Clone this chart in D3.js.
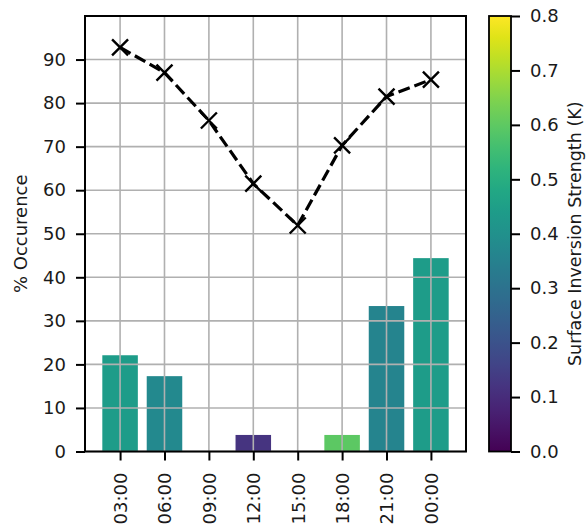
<!DOCTYPE html>
<html><head><meta charset="utf-8">
<script src="https://cdn.jsdelivr.net/npm/d3@7"></script>
<style>body{margin:0;background:#fff}svg{display:block}text{font-family:"DejaVu Sans",sans-serif;fill:#1a1a1a}</style>
</head><body><svg id="c" width="586" height="525"></svg>
<script>
const categories = ["03:00","06:00","09:00","12:00","15:00","18:00","21:00","00:00"];
const barValues = [22.1, 17.3, 0, 3.8, 0, 3.8, 33.4, 44.4];
const strength = [0.44, 0.375, 0, 0.12, 0, 0.60, 0.36, 0.44];
const lineValues = [92.8, 87.0, 76.0, 61.5, 51.9, 70.3, 81.5, 85.4];
const yTicks = [0,10,20,30,40,50,60,70,80,90];
const cbTicks = [0.0,0.1,0.2,0.3,0.4,0.5,0.6,0.7,0.8];

const svg = d3.select("#c");
const L=85, R=466, T=16, B=451.5;
const x = d3.scaleLinear().domain([-0.79, 7.79]).range([L, R]);
const y = d3.scaleLinear().domain([0, 100]).range([B, T]);
const cmax = 0.8;
const color = v => d3.interpolateViridis(v / cmax);
const fs = 18;

// bars
svg.append("g").selectAll("rect").data(barValues).join("rect")
  .attr("x", (d,i)=>x(i-0.4)).attr("width", x(0.8)-x(0))
  .attr("y", d=>y(d)).attr("height", d=>y(0)-y(d))
  .attr("fill", (d,i)=>color(strength[i]));

// grid (on top of bars)
const g = svg.append("g").attr("stroke","#b0b0b0").attr("stroke-width",1.6);
categories.forEach((c,i)=>g.append("line").attr("x1",x(i)).attr("x2",x(i)).attr("y1",T).attr("y2",B));
yTicks.forEach(t=>g.append("line").attr("x1",L).attr("x2",R).attr("y1",y(t)).attr("y2",y(t)));

// line
const line = d3.line().x((d,i)=>x(i)).y(d=>y(d));
svg.append("path").datum(lineValues).attr("d", line).attr("fill","none")
  .attr("stroke","#000").attr("stroke-width",3.2).attr("stroke-dasharray","12,5");
const m = 8;
svg.append("g").selectAll("path").data(lineValues).join("path")
  .attr("d",(d,i)=>{const cx=x(i), cy=y(d);return `M${cx-m},${cy-m}L${cx+m},${cy+m}M${cx-m},${cy+m}L${cx+m},${cy-m}`;})
  .attr("stroke","#000").attr("stroke-width",2.4).attr("fill","none");

// spines
svg.append("rect").attr("x",L).attr("y",T).attr("width",R-L).attr("height",B-T)
  .attr("fill","none").attr("stroke","#000").attr("stroke-width",2);

// y axis
const ya = d3.axisLeft(y).tickValues(yTicks).tickSize(9).tickPadding(10).tickFormat(d3.format("d"));
const yg = svg.append("g").attr("transform",`translate(${L},0)`).call(ya);
yg.select(".domain").remove();
yg.selectAll("line").attr("stroke","#000").attr("stroke-width",2);
yg.selectAll("text").attr("font-size",fs).attr("font-family","DejaVu Sans").attr("fill","#1a1a1a");

// x axis
const xa = d3.axisBottom(x).tickValues(d3.range(categories.length)).tickSize(9).tickFormat(i=>categories[i]);
const xg = svg.append("g").attr("transform",`translate(0,${B})`).call(xa);
xg.select(".domain").remove();
xg.selectAll("line").attr("stroke","#000").attr("stroke-width",2);
xg.selectAll("text").attr("font-size",fs).attr("font-family","DejaVu Sans").attr("fill","#1a1a1a")
  .attr("transform","rotate(-90)").attr("text-anchor","end").attr("x",-21).attr("y",0).attr("dy","0.35em");

// y label
svg.append("text").attr("transform",`translate(27,${(T+B)/2}) rotate(-90)`)
  .attr("text-anchor","middle").attr("font-size",fs).text("% Occurence");

// colorbar
const CL=489, CR=511;
const cy = d3.scaleLinear().domain([0,cmax]).range([B,T]);
const defs = svg.append("defs");
const grad = defs.append("linearGradient").attr("id","vir").attr("x1",0).attr("x2",0).attr("y1",1).attr("y2",0);
d3.range(0,1.0001,0.05).forEach(t=>grad.append("stop").attr("offset",t).attr("stop-color",d3.interpolateViridis(t)));
svg.append("rect").attr("x",CL).attr("y",T).attr("width",CR-CL).attr("height",B-T).attr("fill","url(#vir)");
svg.append("rect").attr("x",CL).attr("y",T).attr("width",CR-CL).attr("height",B-T)
  .attr("fill","none").attr("stroke","#000").attr("stroke-width",1.8);
const ca = d3.axisRight(cy).tickValues(cbTicks).tickSize(9).tickPadding(10).tickFormat(d3.format(".1f"));
const cg = svg.append("g").attr("transform",`translate(${CR},0)`).call(ca);
cg.select(".domain").remove();
cg.selectAll("line").attr("stroke","#000").attr("stroke-width",2);
cg.selectAll("text").attr("font-size",fs).attr("font-family","DejaVu Sans").attr("fill","#1a1a1a");
svg.append("text").attr("transform",`translate(581,${(T+B)/2}) rotate(-90)`)
  .attr("text-anchor","middle").attr("font-size",17.5).text("Surface Inversion Strength (K)");
</script></body></html>
